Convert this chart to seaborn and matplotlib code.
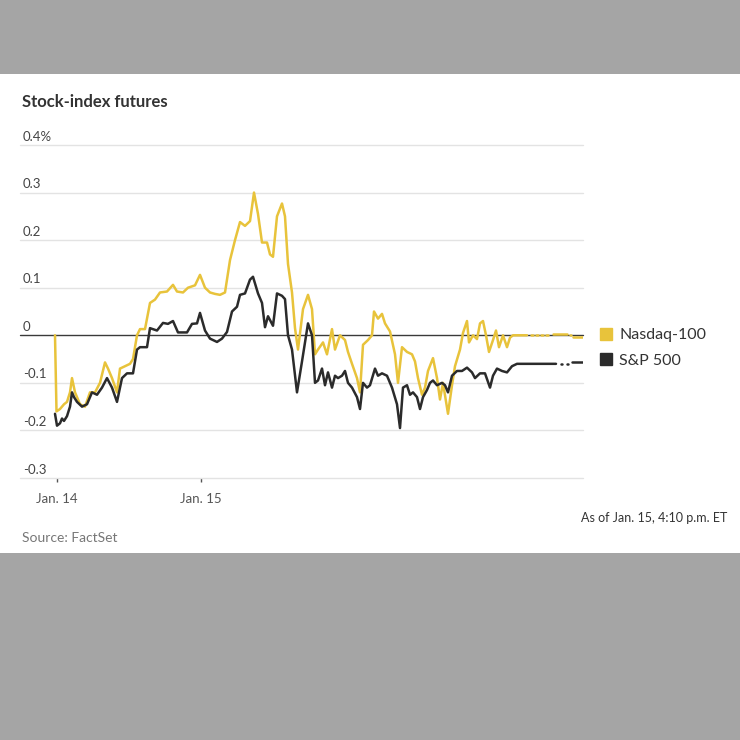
import numpy as np
import pandas as pd
import matplotlib
matplotlib.use('Agg')
import matplotlib.pyplot as plt
import seaborn as sns
from matplotlib.lines import Line2D
from matplotlib.patches import Rectangle

# ===== data: minutes since start of the window, % change =====
nan = np.nan
nasdaq_min = [0, 15, 50, 90, 120, 150, 170, 200, 250, 300, 350, 400, 450, 500, 530, 570, 620, 650,
              700, 750, 780, 820, 850, 900, 950, 1000, 1050, 1120, 1180, 1220, 1280, 1330, 1400,
              1450, 1500, 1550, 1600, 1650, 1700, 1750, 1800, 1850, 1900, 1950, 1990, 2030, 2070,
              2120, 2150, 2180, 2220, 2270, 2300, 2330, 2370, 2400, 2430, 2480, 2530, 2570, 2600,
              2630, 2680, 2720, 2770, 2800, 2850, 2900, 2930, 2970, 3020, 3050, 3080, 3130, 3170,
              3190, 3230, 3270, 3300, 3350, 3400, 3430, 3470, 3520, 3570, 3600, 3630, 3670, 3700,
              3730, 3780, 3820, 3850, 3880, 3930, 3970, 4000, 4050, 4080, 4120, 4140, 4180, 4220,
              4250, 4280, 4310, 4340, 4380, 4410, 4440, 4480, 4520, 4550, 4580, 4650, 4720,
              4740, 4760, 4775, 4790, 4810, 4825, 4840, 4860, 4875, 4890, 4910, 4925, 4940,
              4980, 5120, 5135, 5150, 5160, 5170, 5180, 5280]
nasdaq_val = [0.0, -0.16, -0.155, -0.145, -0.14, -0.12, -0.09, -0.12, -0.145, -0.15, -0.12, -0.12,
              -0.10, -0.057, -0.07, -0.09, -0.12, -0.07, -0.065, -0.06, -0.05, 0.0, 0.013, 0.013,
              0.068, 0.075, 0.09, 0.092, 0.106, 0.092, 0.09, 0.10, 0.105, 0.127, 0.10, 0.09, 0.087,
              0.085, 0.09, 0.158, 0.20, 0.238, 0.23, 0.24, 0.30, 0.255, 0.195, 0.195, 0.17, 0.165,
              0.25, 0.277, 0.25, 0.15, 0.09, 0.015, -0.03, 0.055, 0.085, 0.055, -0.04, -0.03,
              -0.015, -0.04, 0.013, -0.03, 0.0, -0.01, -0.035, -0.06, -0.09, -0.12, -0.02, -0.01,
              0.0, 0.05, 0.035, 0.045, 0.025, 0.008, -0.04, -0.10, -0.025, -0.035, -0.04, -0.055,
              -0.09, -0.125, -0.11, -0.075, -0.048, -0.09, -0.135, -0.10, -0.165, -0.105, -0.065,
              -0.03, 0.005, 0.03, -0.015, 0.0, -0.008, 0.025, 0.03, 0.0, -0.035, -0.01, 0.01,
              -0.025, 0.0, -0.025, -0.005, 0.0, 0.0, 0.0,
              nan, 0.0, 0.0, nan, 0.0, 0.0, nan, 0.0, 0.0, nan, 0.0, 0.0, nan,
              0.002, 0.002, nan, 0.0, 0.0, nan, -0.003, -0.003]

spx_min = [0, 20, 50, 70, 90, 120, 150, 170, 190, 220, 270, 320, 370, 420, 470, 520, 570, 620, 670,
           720, 780, 820, 850, 920, 950, 1020, 1080, 1130, 1180, 1230, 1320, 1370, 1420, 1450, 1500,
           1550, 1620, 1670, 1720, 1770, 1820, 1850, 1900, 1950, 1980, 2030, 2070, 2100, 2130, 2180,
           2220, 2270, 2300, 2330, 2370, 2420, 2470, 2530, 2570, 2600, 2630, 2670, 2700, 2730, 2770,
           2800, 2830, 2870, 2900, 2930, 2970, 3020, 3050, 3080, 3120, 3150, 3200, 3230, 3270, 3320,
           3370, 3420, 3450, 3480, 3520, 3550, 3580, 3620, 3650, 3680, 3720, 3750, 3780, 3820, 3870,
           3900, 3930, 3970, 4020, 4070, 4120, 4170, 4200, 4250, 4300, 4350, 4380, 4420, 4470, 4520,
           4570, 4620, 5010, 5030, 5060, 5070, 5085, 5115, 5125, 5140, 5170, 5280]
spx_val = [-0.165, -0.19, -0.185, -0.175, -0.18, -0.17, -0.15, -0.12, -0.13, -0.14, -0.15, -0.145,
           -0.12, -0.125, -0.11, -0.09, -0.11, -0.14, -0.09, -0.08, -0.08, -0.03, -0.025, -0.025,
           0.015, 0.01, 0.026, 0.024, 0.03, 0.006, 0.006, 0.024, 0.025, 0.047, 0.01, -0.007, -0.014,
           -0.007, 0.007, 0.05, 0.06, 0.085, 0.088, 0.117, 0.123, 0.088, 0.068, 0.017, 0.04, 0.02,
           0.088, 0.083, 0.076, 0.0, -0.03, -0.12, -0.055, 0.025, 0.0, -0.10, -0.095, -0.07, -0.105,
           -0.078, -0.11, -0.085, -0.09, -0.085, -0.075, -0.10, -0.11, -0.13, -0.155, -0.10, -0.11,
           -0.105, -0.07, -0.085, -0.08, -0.085, -0.11, -0.145, -0.195, -0.11, -0.105, -0.125, -0.12,
           -0.13, -0.155, -0.13, -0.115, -0.10, -0.095, -0.105, -0.10, -0.105, -0.12, -0.085, -0.075,
           -0.075, -0.068, -0.078, -0.09, -0.08, -0.08, -0.11, -0.085, -0.07, -0.075, -0.078, -0.065,
           -0.06, -0.06, nan, -0.06, -0.06, nan, -0.06, -0.06, nan, -0.057, -0.057]

series_names = ['Nasdaq-100', 'S&P 500']
series_colors = ['#e8c33b', '#2b2b2b']
ytick_vals = [0.4, 0.3, 0.2, 0.1, 0, -0.1, -0.2, -0.3]
ytick_labels = ['0.4%', '0.3', '0.2', '0.1', '0', '-0.1', '-0.2', '-0.3']
xtick_min = [20, 1460]
xtick_labels = ['Jan. 14', 'Jan. 15']

# build a long table; gaps (NaN) split a series into separate segments
frames = []
for name, t, v in [(series_names[0], nasdaq_min, nasdaq_val), (series_names[1], spx_min, spx_val)]:
    d = pd.DataFrame({'minute': t, 'value': v})
    d['seg'] = d['value'].isna().cumsum()
    d['series'] = name
    frames.append(d.dropna())
df = pd.concat(frames, ignore_index=True)

# ===== style =====
sns.set_style('white')
plt.rcParams['font.family'] = ['Lato', 'DejaVu Sans']

W = H = 740
fig = plt.figure(figsize=(7.4, 7.4), dpi=100, facecolor='#a5a5a5')
fig.patches.append(Rectangle((0, (H - 553) / H), 1, (553 - 74) / H, transform=fig.transFigure,
                             facecolor='white', edgecolor='none', zorder=-10))

ax = fig.add_axes([20 / W, (H - 478) / H, 563 / W, 333 / H])
ax.set_facecolor('none')

sns.lineplot(data=df, x='minute', y='value', hue='series', units='seg', estimator=None,
             palette=dict(zip(series_names, series_colors)), hue_order=[series_names[0], series_names[1]],
             linewidth=1.8, legend=False, ax=ax, zorder=3)

ax.set_xlim(-350, 5280)
ax.set_ylim(-0.3, 0.4)
for s in ax.spines.values():
    s.set_visible(False)

# gridlines and zero line
for v in ytick_vals:
    if v == 0:
        ax.axhline(v, color='#3a3a3a', lw=1.0, zorder=2, clip_on=False)
    else:
        ax.axhline(v, color='#e3e3e3', lw=1.0, zorder=1, clip_on=False)

# y labels sit above the gridlines, inside the plot
ax.set_yticks([])
for v, lab in zip(ytick_vals, ytick_labels):
    ax.text(3 / 563, v + 0.005, lab, transform=ax.get_yaxis_transform(), ha='left', va='bottom',
            fontsize=9.5, color='#444444')

ax.set_xticks(xtick_min)
ax.set_xticklabels(xtick_labels, fontsize=9.5, color='#555555')
ax.tick_params(axis='x', length=3, width=1, color='#555555', pad=8, direction='out', bottom=True)
ax.set_xlabel('')
ax.set_ylabel('')

# legend with square swatches
handles = [Line2D([], [], marker='s', ls='', color=c, markersize=8) for c in series_colors]
fig.legend(handles, series_names, loc='upper left', bbox_to_anchor=(592 / W, 1 - 320 / H),
           frameon=False, fontsize=11.5, handlelength=0.8, handletextpad=0.4,
           labelspacing=0.7, borderpad=0, labelcolor='#333333')

fig.text(22 / W, 1 - 102 / H, 'Stock-index futures', ha='left', va='center', fontsize=12,
         fontweight='bold', color='#333333')
fig.text(727 / W, 1 - 518 / H, 'As of Jan. 15, 4:10 p.m. ET', ha='right', va='center',
         fontsize=9, color='#333333')
fig.text(22 / W, 1 - 538 / H, 'Source: FactSet', ha='left', va='center', fontsize=10,
         color='#777777')

fig.savefig('out.png', dpi=100, facecolor=fig.get_facecolor())
